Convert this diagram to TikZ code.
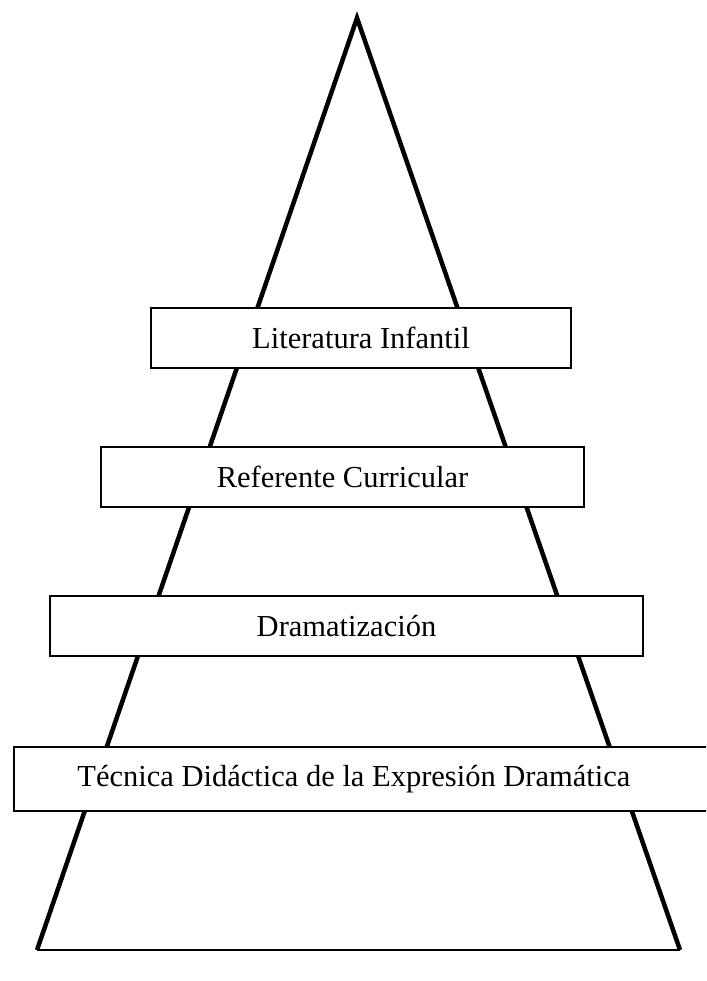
\documentclass[tikz,border=0pt]{standalone}
\usepackage{fontspec}
\setmainfont{Liberation Serif}
\begin{document}
\begin{tikzpicture}[x=1pt,y=-1pt,
  side/.style={line width=4.5pt,line join=miter,miter limit=20},
  baseline/.style={line width=2pt},
  lvl/.style={draw,line width=1.8pt,fill=white,font=\fontsize{30.5}{34}\selectfont}]
\useasboundingbox (0,0) rectangle (706,981);
\coordinate (apex) at (357,18);
\coordinate (bl) at (37,950);
\coordinate (br) at (680,950);
\draw[side] (bl) -- (apex) -- (br);
\draw[baseline] (bl) -- (br);
\begin{scope}
\clip (0,0) rectangle (706,981);
\node[lvl,minimum width=420pt,minimum height=60pt] (n1) at (361,338) {Literatura Infantil};
\node[lvl,minimum width=483pt,minimum height=60pt] (n2) at (342.5,477) {Referente Curricular};
\node[lvl,minimum width=593pt,minimum height=60pt] (n3) at (346.5,626) {Dramatización};
\node[lvl,minimum width=700pt,minimum height=64pt,anchor=west] (n4) at (13,779) {Técnica Didáctica de la Expresión Dramática\kern20pt\null};
\end{scope}
\end{tikzpicture}
\end{document}
